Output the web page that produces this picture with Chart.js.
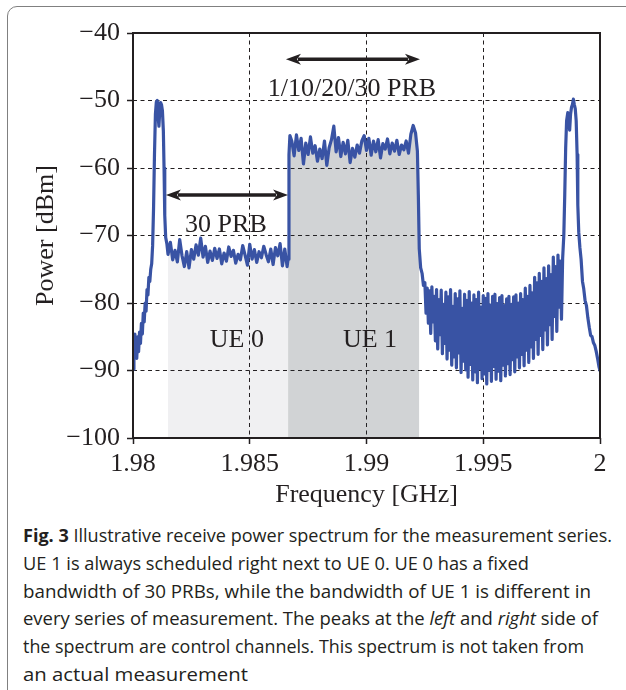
<!DOCTYPE html>
<html>
<head>
<meta charset="utf-8">
<script src="https://cdn.jsdelivr.net/npm/chart.js@4.4.0/dist/chart.umd.min.js"></script>
<style>
  html, body { margin: 0; padding: 0; background: #fff; }
  body { width: 626px; height: 690px; position: relative; overflow: hidden; }
  #frame { position: absolute; left: 7px; top: 6px; width: 720px; height: 740px; border: 1.5px solid #808080; border-radius: 10px; box-sizing: border-box; }
  #chart { position: absolute; left: 0; top: 0; }
  #caption { position: absolute; left: 23px; top: 522px; font-family: "Open Sans", "Noto Sans", sans-serif; font-size: 18px; line-height: 27.8px; color: #231f20; }
  #caption div { white-space: nowrap; transform-origin: 0 50%; width: max-content; }
  #caption b { font-weight: 700; }
</style>
</head>
<body>
<div id="frame"></div>
<canvas id="chart" width="626" height="515"></canvas>
<div id="caption">
  <div data-w="589"><b>Fig. 3</b> Illustrative receive power spectrum for the measurement series.</div>
  <div data-w="506">UE 1 is always scheduled right next to UE 0. UE 0 has a fixed</div>
  <div data-w="568">bandwidth of 30 PRBs, while the bandwidth of UE 1 is different in</div>
  <div data-w="575">every series of measurement. The peaks at the <i>left</i> and <i>right</i> side of</div>
  <div data-w="561">the spectrum are control channels. This spectrum is not taken from</div>
  <div data-w="225">an actual measurement</div>
</div>
<script>
// spectrum: [frequency GHz, power dBm]
const leftPeak = [
  [1.98000,-89.8],[1.98004,-88.0],[1.98008,-84.6],[1.98012,-86.8],[1.98016,-88.2],[1.98020,-85.0],
  [1.98024,-87.2],[1.98028,-84.3],[1.98032,-86.0],[1.98036,-83.0],[1.98040,-84.6],[1.98044,-81.5],
  [1.98048,-82.8],[1.98052,-80.0],[1.98056,-81.2],[1.98060,-78.0],[1.98064,-78.8],[1.98068,-76.2],
  [1.98072,-76.8],[1.98076,-75.0],[1.98080,-74.2],[1.98084,-71.5],[1.98088,-66.0],[1.98092,-58.0],
  [1.98096,-52.0],[1.98100,-50.2],[1.98104,-50.0],[1.98108,-52.5],[1.98111,-53.8],[1.98114,-52.0],
  [1.98118,-50.3],[1.98122,-50.6],[1.98126,-51.5],[1.98130,-54.5],[1.98133,-60.0],[1.98136,-67.0],
  [1.98140,-70.3],[1.98145,-71.2]
];

const ue0Band = [
  [1.98150,-72.8],[1.98160,-71.0],[1.98170,-73.6],[1.98180,-72.2],[1.98190,-73.9],[1.98200,-70.6],
  [1.98210,-73.0],[1.98220,-74.6],[1.98230,-72.4],[1.98240,-74.8],[1.98250,-72.1],[1.98260,-73.5],
  [1.98270,-71.4],[1.98280,-72.9],[1.98290,-70.4],[1.98300,-73.2],[1.98310,-71.6],[1.98320,-74.0],
  [1.98330,-72.3],[1.98340,-73.7],[1.98350,-71.9],[1.98360,-73.4],[1.98370,-72.0],[1.98380,-74.2],
  [1.98390,-72.6],[1.98400,-73.8],[1.98410,-71.7],[1.98420,-73.1],[1.98430,-72.2],[1.98440,-74.1],
  [1.98450,-72.8],[1.98460,-73.6],[1.98470,-71.5],[1.98480,-72.9],[1.98490,-74.4],[1.98500,-71.3],
  [1.98510,-73.5],[1.98520,-72.1],[1.98530,-74.0],[1.98540,-72.4],[1.98550,-73.3],[1.98560,-71.6],
  [1.98570,-72.8],[1.98580,-73.9],[1.98590,-72.0],[1.98600,-74.3],[1.98610,-71.8],[1.98620,-73.0],
  [1.98630,-71.2],[1.98640,-74.5],[1.98650,-72.0],[1.98660,-74.6]
];

const ue1Band = [
  [1.98664,-73.5],[1.98668,-58.0],[1.98672,-55.2],
  [1.98680,-56.0],[1.98690,-58.2],[1.98700,-55.1],[1.98710,-57.4],[1.98720,-55.6],[1.98730,-59.4],
  [1.98740,-56.3],[1.98750,-58.0],[1.98760,-55.4],[1.98770,-57.8],[1.98780,-56.7],[1.98790,-59.0],
  [1.98800,-57.2],[1.98810,-58.6],[1.98820,-56.0],[1.98830,-59.6],[1.98840,-57.0],[1.98850,-55.8],
  [1.98860,-53.8],[1.98870,-57.6],[1.98880,-55.5],[1.98890,-58.3],[1.98900,-56.2],[1.98910,-57.9],
  [1.98920,-55.9],[1.98930,-59.2],[1.98940,-57.1],[1.98950,-58.4],[1.98960,-56.6],[1.98970,-57.8],
  [1.98980,-56.0],[1.98990,-55.2],[1.99000,-57.4],[1.99010,-55.6],[1.99020,-58.1],[1.99030,-56.0],
  [1.99040,-57.6],[1.99050,-55.8],[1.99060,-58.5],[1.99070,-56.4],[1.99080,-57.2],[1.99090,-55.7],
  [1.99100,-57.9],[1.99110,-56.3],[1.99120,-57.5],[1.99130,-55.9],[1.99140,-58.0],[1.99150,-56.6],
  [1.99160,-57.3],[1.99170,-56.0],[1.99180,-57.8],[1.99190,-55.0],[1.99200,-53.7],[1.99210,-54.8],
  [1.99218,-57.5]
];

const gapNoise = [
  [1.99222,-64.0],[1.99226,-72.0],[1.99232,-74.8],[1.99238,-75.6],[1.99244,-77.4],
  [1.99250,-77.0],[1.99255,-81.5],[1.99260,-77.8],[1.99265,-83.0],[1.99270,-78.2],[1.99275,-84.5],
  [1.99280,-77.6],[1.99285,-82.8],[1.99290,-79.0],[1.99295,-85.6],[1.99300,-78.0],[1.99305,-86.8],
  [1.99310,-79.5],[1.99315,-84.7],[1.99320,-78.1],[1.99325,-87.5],[1.99330,-80.2],[1.99335,-86.0],
  [1.99340,-78.4],[1.99345,-88.3],[1.99350,-79.1],[1.99355,-87.0],[1.99360,-78.0],[1.99365,-89.2],
  [1.99370,-80.5],[1.99375,-88.0],[1.99380,-78.6],[1.99385,-89.6],[1.99390,-79.4],[1.99395,-87.4],
  [1.99400,-78.2],[1.99405,-90.3],[1.99410,-80.8],[1.99415,-88.6],[1.99420,-78.7],[1.99425,-89.9],
  [1.99430,-79.6],[1.99435,-91.0],[1.99440,-78.3],[1.99445,-89.1],[1.99450,-80.0],[1.99455,-91.4],
  [1.99460,-78.8],[1.99465,-90.2],[1.99470,-79.5],[1.99475,-91.8],[1.99480,-78.4],[1.99485,-89.7],
  [1.99490,-80.6],[1.99495,-91.2],[1.99500,-78.9],[1.99505,-90.5],[1.99510,-79.3],[1.99515,-92.0],
  [1.99520,-78.6],[1.99525,-90.0],[1.99530,-80.3],[1.99535,-91.6],[1.99540,-79.0],[1.99545,-89.4],
  [1.99550,-78.7],[1.99555,-91.3],[1.99560,-80.1],[1.99565,-90.1],[1.99570,-79.2],[1.99575,-91.5],
  [1.99580,-78.9],[1.99585,-89.2],[1.99590,-80.4],[1.99595,-90.8],[1.99600,-79.4],[1.99605,-89.0],
  [1.99610,-79.0],[1.99615,-90.6],[1.99620,-80.2],[1.99625,-88.4],[1.99630,-79.1],[1.99635,-90.2],
  [1.99640,-78.8],[1.99645,-88.0],[1.99650,-80.0],[1.99655,-89.6],[1.99660,-78.6],[1.99665,-87.6],
  [1.99670,-79.5],[1.99675,-89.3],[1.99680,-77.8],[1.99685,-87.0],[1.99690,-79.0],[1.99695,-88.8],
  [1.99700,-77.4],[1.99705,-86.5],[1.99710,-78.5],[1.99715,-88.2],[1.99720,-76.2],[1.99725,-85.4],
  [1.99730,-77.0],[1.99735,-87.6],[1.99740,-75.6],[1.99745,-84.8],[1.99750,-76.8],[1.99755,-86.9],
  [1.99760,-74.8],[1.99765,-84.0],[1.99770,-76.4],[1.99775,-86.2],[1.99780,-74.5],[1.99785,-83.2],
  [1.99790,-75.8],[1.99795,-85.4],[1.99800,-73.2],[1.99805,-82.0],[1.99810,-74.6],[1.99815,-84.2],
  [1.99820,-72.9],[1.99825,-80.6],[1.99830,-73.8],[1.99835,-82.4],[1.99840,-73.4]
];

const rightPeak = [
  [1.99845,-70.0],[1.99849,-64.0],[1.99853,-57.0],[1.99857,-53.0],[1.99862,-51.8],[1.99866,-52.5],
  [1.99870,-54.4],[1.99874,-52.0],[1.99878,-51.0],[1.99882,-50.6],[1.99886,-49.8],[1.99890,-50.6],
  [1.99894,-51.2],[1.99898,-53.0],[1.99902,-58.0],[1.99905,-65.5],[1.99909,-69.5],[1.99914,-71.8],
  [1.99919,-73.5],[1.99925,-76.8],[1.99930,-77.8],[1.99936,-79.6],[1.99942,-80.4],[1.99948,-82.2],
  [1.99954,-83.6],[1.99960,-84.8],[1.99966,-85.0],[1.99972,-85.9],[1.99978,-86.3],[1.99984,-87.2],
  [1.99990,-88.3],[1.99996,-89.5],[2.00000,-90.0]
];

// axes
const xTickValues = [1.98, 1.985, 1.99, 1.995, 2];
const xTickLabels = ['1.98', '1.985', '1.99', '1.995', '2'];
const yTickValues = [-100, -90, -80, -70, -60, -50, -40];
const yTickLabels = ['\u2212100', '\u221290', '\u221280', '\u221270', '\u221260', '\u221250', '\u221240'];

// annotations (data coordinates)
const arrows = [
  { from: 1.98141, to: 1.98664, y: -64.0 },
  { from: 1.98655, to: 1.99229, y: -43.9 }
];
const labels = [
  { text: '1/10/20/30 PRB', x: 1.98938, y: -49.3 },
  { text: '30 PRB', x: 1.98398, y: -69.5 },
  { text: 'UE 0', x: 1.98445, y: -86.5 },
  { text: 'UE 1', x: 1.99015, y: -86.5 }
];

const serif = '"Liberation Serif", "Times New Roman", serif';
const ink = '#231f20';

const toXY = arr => arr.map(p => ({ x: p[0], y: p[1] }));
const spectrum = [].concat(leftPeak, ue0Band, ue1Band, gapNoise, rightPeak);
const ue0Fill = ue0Band.concat([ue1Band[0]]);
const ue1Fill = ue1Band.concat(gapNoise.slice(0, 2));

function drawArrow(ctx, x1, x2, y) {
  const head = 15, half = 5.5;
  ctx.lineWidth = 3.5;
  ctx.beginPath();
  ctx.moveTo(x1 + head - 3, y);
  ctx.lineTo(x2 - head + 3, y);
  ctx.stroke();
  [[x1, 1], [x2, -1]].forEach(([tip, d]) => {
    ctx.beginPath();
    ctx.moveTo(tip, y);
    ctx.lineTo(tip + d * head, y - half);
    ctx.lineTo(tip + d * (head - 4), y);
    ctx.lineTo(tip + d * head, y + half);
    ctx.closePath();
    ctx.fill();
  });
}

const annotationPlugin = {
  id: 'annotations',
  afterDraw(chart) {
    const { ctx, chartArea: a, scales: { x, y } } = chart;
    ctx.save();
    ctx.strokeStyle = ink;
    ctx.fillStyle = ink;
    ctx.lineWidth = 2;
    ctx.strokeRect(a.left, a.top, a.right - a.left, a.bottom - a.top);

    arrows.forEach(ar => drawArrow(ctx, x.getPixelForValue(ar.from), x.getPixelForValue(ar.to), y.getPixelForValue(ar.y)));

    ctx.font = '26px ' + serif;
    ctx.textAlign = 'center';
    ctx.textBaseline = 'alphabetic';
    labels.forEach(l => ctx.fillText(l.text, x.getPixelForValue(l.x), y.getPixelForValue(l.y)));
    ctx.restore();
  }
};

const gridStyle = {
  color: ink,
  lineWidth: 1,
  drawTicks: true,
  tickLength: 6,
  tickColor: ink,
  tickWidth: 1.5,
  tickBorderDash: []
};
const dashedBorder = { display: false, dash: [4, 3.5] };

new Chart(document.getElementById('chart'), {
  type: 'line',
  data: {
    datasets: [
      {
        data: toXY(spectrum),
        borderColor: '#3953a4',
        borderWidth: 3.2,
        borderJoinStyle: 'round',
        borderCapStyle: 'round',
        pointRadius: 0,
        tension: 0,
        fill: false
      },
      {
        data: toXY(ue1Fill),
        borderWidth: 0,
        borderColor: 'rgba(0,0,0,0)',
        backgroundColor: 'rgba(40,45,55,0.21)',
        pointRadius: 0,
        fill: 'start'
      },
      {
        data: toXY(ue0Fill),
        borderWidth: 0,
        borderColor: 'rgba(0,0,0,0)',
        backgroundColor: 'rgba(60,70,90,0.08)',
        pointRadius: 0,
        fill: 'start'
      }
    ]
  },
  options: {
    responsive: false,
    animation: false,
    parsing: false,
    layout: { padding: { left: 0, right: 26, top: 33, bottom: 0 } },
    plugins: { legend: { display: false }, tooltip: { enabled: false } },
    scales: {
      x: {
        type: 'linear',
        min: 1.98,
        max: 2,
        afterBuildTicks: s => { s.ticks = xTickValues.map(v => ({ value: v })); },
        afterFit: s => { s.height = 515 - 438; },
        border: dashedBorder,
        grid: gridStyle,
        ticks: {
          color: ink,
          padding: 5,
          maxRotation: 0,
          font: { family: serif, size: 26, lineHeight: 1.2 },
          callback: (v, i) => xTickLabels[i]
        },
        title: {
          display: true,
          text: 'Frequency [GHz]',
          color: ink,
          font: { family: serif, size: 26, lineHeight: 1.2 },
          padding: { top: 0, bottom: 4 }
        }
      },
      y: {
        type: 'linear',
        min: -100,
        max: -40,
        afterBuildTicks: s => { s.ticks = yTickValues.map(v => ({ value: v })); },
        afterFit: s => { s.width = 133; },
        border: dashedBorder,
        grid: gridStyle,
        ticks: {
          color: ink,
          padding: 7,
          font: { family: serif, size: 26, lineHeight: 1.2 },
          callback: (v, i) => yTickLabels[i]
        },
        title: {
          display: true,
          text: 'Power [dBm]',
          color: ink,
          font: { family: serif, size: 26, lineHeight: 1.2 },
          padding: { top: 31, bottom: 0 }
        }
      }
    }
  },
  plugins: [annotationPlugin]
});

// stretch each caption line to the width it has in the printed figure
document.querySelectorAll('#caption div').forEach(line => {
  const w = line.getBoundingClientRect().width;
  line.style.transform = 'scaleX(' + (Number(line.dataset.w) / w).toFixed(4) + ')';
});
</script>
</body>
</html>
